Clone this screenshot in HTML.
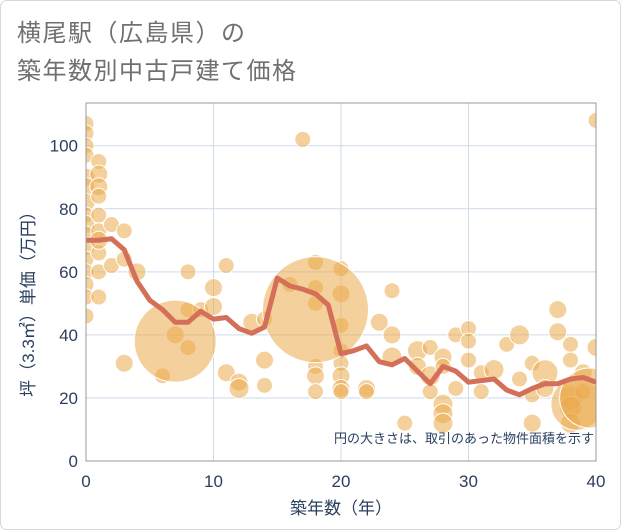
<!DOCTYPE html>
<html><head><meta charset="utf-8">
<style>
body{margin:0;background:#fff;}
#wrap{position:relative;width:621px;height:530px;overflow:hidden;}
svg text{font-family:"Liberation Sans","Noto Sans CJK JP",sans-serif;}
</style></head>
<body>
<div id="wrap">
<svg id="chart" width="621" height="530">
<rect x="0.5" y="0.5" width="620" height="529" rx="6" fill="#fff" stroke="#d8d8d8"/>
<text x="17" y="41" font-size="24" fill="#707070" letter-spacing="1.5">横尾駅（広島県）の</text>
<text x="17" y="79" font-size="24" fill="#707070" letter-spacing="1.5">築年数別中古戸建て価格</text>
<g id="grid"></g>
<g id="bubbles"></g>
<path id="avgline" fill="none" stroke="#d4705a" stroke-width="5" stroke-linejoin="round"/>
<rect x="86" y="103" width="510" height="358" fill="none" stroke="#999" stroke-width="1"/>
<g id="ticks"></g>
<text x="594" y="443" font-size="13" fill="#2a3f5f" text-anchor="end">円の大きさは、取引のあった物件面積を示す</text>
<text x="341" y="514" font-size="17" fill="#2a3f5f" text-anchor="middle">築年数（年）</text>
<text transform="translate(34,300) rotate(-90)" font-size="17" fill="#2a3f5f" text-anchor="middle">坪（3.3㎡）単価（万円）</text>
</svg>
</div>
<script>
const xTicks=[0,10,20,30,40];
const yTicks=[0,20,40,60,80,100];
const lineYears=[0,1,2,3,4,5,6,7,8,9,10,11,12,13,14,15,16,17,18,19,20,21,22,23,24,25,26,27,28,29,30,31,32,33,34,35,36,37,38,39,40];
const lineValues=[70,70,70.5,67,57,51,48,44,44,47.5,45,45.5,42,40.5,42.5,58,55.5,54.5,53,49.5,34,35,36.5,31.5,30.5,32.5,28.5,24.5,30,28.5,25,25.5,26,22.5,21,23,24.5,24.5,26,26.5,25];
const bubbleYears=[0,0,0,0,0,0,0,0,0,0,0,0,0,0,0,0,1,1,1,1,1,1,1,1,1,1,2,2,3,3,3,4,6,7,8,8,8,9,10,10,11,11,12,12,13,14,14,14,17,16,18,18,18,18,18,18,20,20,20,20,20,20,20,20,22,22,23,24,24,24,25,26,26,27,27,27,28,28,28,28,28,29,29,30,30,30,31,31,32,33,34,34,35,35,35,36,36,37,37,38,38,38,38,38,39,39,40,40,7,18,38.5,39.5];
const bubbleValues=[107,104,100,97,90,87,82,78,75,72,68,64,60,56,52,46,95,91,87,84,78,73,66,60,52,70,75,62,73,64,31,60,27,40,60,48,36,48,55,49,62,28,25,23,44,32,24,45,102,56,63,55,50,30,27,22,61,53,43,35,31,27,23,22,23,22,44,54,40,33,12,35,30,27,36,22,33,30,18,15,12,40,23,42,38,32,22,28,29,37,40,26,31,21,12,28,23,48,41,37,32,20,17,12,28,22,108,36,38,48,18,20];
const bubbleSizes=[8,8,8,8,9,9,9,8,9,8,9,8,8,8,8,8,8,9,9,8,8,8,8,8,8,9,8,8,8,8,9,9,8,9,8,8,8,8,9,9,8,9,9,10,9,9,8,8,8,8,8,8,8,8,9,8,8,9,8,8,8,9,9,8,9,8,9,8,9,10,8,10,9,10,8,8,9,8,10,10,10,8,8,8,8,8,8,8,10,8,10,8,8,8,9,13,9,9,9,8,8,12,11,10,9,8,8,9,41,53,26,30];
const X=v=>86+v*12.75, Y=v=>461-v*3.153;
const NS='http://www.w3.org/2000/svg';
const grid=document.getElementById('grid'), ticks=document.getElementById('ticks');
xTicks.forEach(t=>{
  const l=document.createElementNS(NS,'line');
  l.setAttribute('x1',X(t));l.setAttribute('x2',X(t));l.setAttribute('y1',103);l.setAttribute('y2',461);
  l.setAttribute('stroke','#cfd9e8');l.setAttribute('stroke-width','1');
  
  
  grid.appendChild(l);
  const tx=document.createElementNS(NS,'text');
  tx.setAttribute('x',X(t));tx.setAttribute('y',487);tx.setAttribute('font-size','17');tx.setAttribute('fill','#2a3f5f');tx.setAttribute('text-anchor','middle');
  tx.textContent=t;
  
  
  ticks.appendChild(tx);
});
yTicks.forEach(t=>{
  const l=document.createElementNS(NS,'line');
  l.setAttribute('x1',86);l.setAttribute('x2',596);l.setAttribute('y1',Y(t));l.setAttribute('y2',Y(t));
  l.setAttribute('stroke','#cfd9e8');l.setAttribute('stroke-width','1');
  
  
  grid.appendChild(l);
  const tx=document.createElementNS(NS,'text');
  tx.setAttribute('x',78);tx.setAttribute('y',Y(t)+6);tx.setAttribute('font-size','17');tx.setAttribute('fill','#2a3f5f');tx.setAttribute('text-anchor','end');
  tx.textContent=t;
  
  
  ticks.appendChild(tx);
});
const bg=document.getElementById('bubbles');
const clip=document.createElementNS(NS,'clipPath');clip.setAttribute('id','pc');
const cr=document.createElementNS(NS,'rect');cr.setAttribute('x',86);cr.setAttribute('y',103);cr.setAttribute('width',510);cr.setAttribute('height',358);
clip.appendChild(cr);document.getElementById('chart').appendChild(clip);
bg.setAttribute('clip-path','url(#pc)');
bubbleYears.forEach((yr,i)=>{
  const c=document.createElementNS(NS,'circle');
  c.setAttribute('cx',X(yr));c.setAttribute('cy',Y(bubbleValues[i]));c.setAttribute('r',bubbleSizes[i]);
  c.setAttribute('fill','#eba94b');c.setAttribute('fill-opacity','0.55');c.setAttribute('stroke','#fff');c.setAttribute('stroke-width','1');
  
  
  bg.appendChild(c);
});
document.getElementById('avgline').setAttribute('d',lineYears.map((y,i)=>(i?'L':'M')+X(y)+','+Y(lineValues[i])).join(' '));
</script>
</body></html>
